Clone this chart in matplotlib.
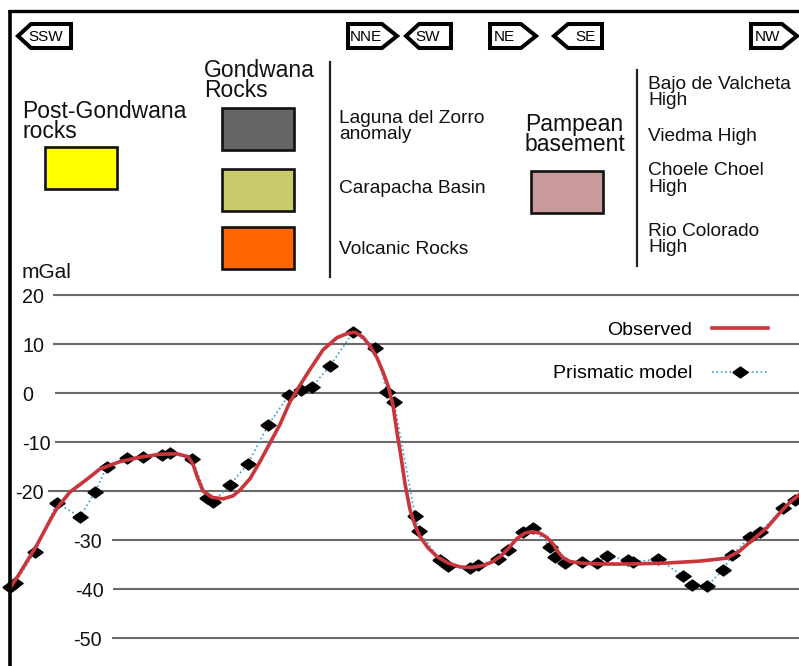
import numpy as np
import matplotlib.pyplot as plt
from matplotlib.patches import Polygon, Rectangle

plt.rcParams['font.family'] = ['Liberation Sans', 'DejaVu Sans']

# profile distance (plot units) and gravity anomaly (mGal)
obs_x = [10, 20, 37, 50, 57, 70, 87, 100, 120, 140, 160, 177, 188, 193, 197, 203,
         212, 223, 233, 240, 250, 260, 270, 280, 290, 300, 310, 323, 337, 348, 355,
         363, 370, 377, 383, 388, 393, 397, 401, 405, 410, 415, 420, 428, 437, 448,
         460, 472, 483, 492, 500, 508, 517, 525, 532, 540, 547, 553, 558, 563, 570,
         580, 600, 630, 667, 700, 727, 740, 750, 760, 767, 780, 790, 799]
obs_y = [-39.8, -36.7, -31.0, -26.0, -23.5, -20.2, -17.6, -15.5, -14.0, -13.1, -12.5,
         -12.4, -13.0, -14.5, -17.0, -20.0, -21.3, -21.6, -21.0, -19.8, -17.5, -14.0,
         -10.2, -6.4, -1.8, 1.6, 4.8, 8.8, 11.3, 12.2, 12.4, 11.4, 9.6, 7.2, 4.3, 1.5,
         -2.5, -8.0, -13.0, -18.5, -23.8, -27.0, -29.3, -31.6, -33.4, -34.7, -35.5,
         -35.6, -35.2, -34.5, -33.4, -31.8, -29.7, -28.6, -28.3, -28.6, -29.5, -30.8,
         -32.4, -33.6, -34.4, -34.7, -34.9, -34.9, -34.7, -34.3, -33.7, -32.2, -30.4,
         -28.7, -27.5, -24.4, -22.3, -20.8]

model_x = [10, 15, 35, 57, 80, 95, 107, 127, 143, 162, 170, 192, 207, 213, 230, 248,
           268, 289, 301, 312, 330, 353, 375, 387, 394, 415, 419, 440, 448, 470, 478,
           498, 508, 523, 533, 550, 555, 565, 582, 597, 607, 628, 633, 658, 683, 692,
           707, 723, 732, 750, 760, 783, 795]
model_y = [-39.5, -38.8, -32.4, -22.4, -25.3, -20.2, -15.0, -13.3, -13.1, -12.7, -12.3,
           -13.4, -21.4, -22.2, -18.8, -14.4, -6.6, -0.4, 0.6, 1.3, 5.5, 12.4, 9.2, 0.2,
           -1.8, -25.0, -28.1, -34.1, -35.3, -35.7, -35.1, -33.9, -32.0, -28.4, -27.6,
           -31.4, -33.4, -34.7, -34.5, -34.7, -33.3, -34.1, -34.5, -33.9, -37.3, -39.2,
           -39.4, -36.1, -33.1, -29.4, -28.4, -23.5, -21.8]

levels = [20, 10, 0, -10, -20, -30, -40, -50]
level_label_x = [22, 22, 22, 22, 15, 73, 75, 73]
grid_start = [53, 53, 55, 55, 48, 112, 113, 112]

directions = ['SSW', 'NNE', 'SW', 'NE', 'SE', 'NW']

W, H = 799, 666
fig = plt.figure(figsize=(W / 100, H / 100), dpi=100)

# chart axes (pixel row = 393 - 4.9 * mGal)
ax = fig.add_axes([0, 0, 1, 386 / H])
ax.set_xlim(0, W)
ax.set_ylim(-55.714, 23.061)
ax.axis('off')

for lev, lx, gx in zip(levels, level_label_x, grid_start):
    ax.hlines(lev, gx, W, color='#6a6a6a', lw=1.5, zorder=1)
    ax.annotate(str(lev), (lx, lev), xytext=(0, -5.8), textcoords='offset points',
                ha='left', va='baseline', fontsize=14.2, color='#111111')

diamond = [(-1, 0), (0, 0.72), (1, 0), (0, -0.72), (-1, 0)]
model_line, = ax.plot(model_x, model_y, color='#3a9ad6', lw=1.2, ls=':',
                      marker=diamond, markersize=11, markerfacecolor='black',
                      markeredgecolor='black', zorder=3, label='Prismatic model')
obs_line, = ax.plot(obs_x, obs_y, color='#c9353a', lw=2.6, zorder=4,
                    solid_joinstyle='round', label='Observed')

ax.legend(handles=[obs_line, model_line], loc='upper right',
          bbox_to_anchor=(768 / W, 1 - 321 / H), bbox_transform=fig.transFigure,
          markerfirst=False, frameon=False, fontsize=14, handlelength=2.9,
          handletextpad=1.0, labelspacing=1.35, borderpad=0, borderaxespad=0)

# overlay in pixel coordinates for the header and frame
ov = fig.add_axes([0, 0, 1, 1], zorder=3)
ov.set_xlim(0, W)
ov.set_ylim(H, 0)
ov.axis('off')
ov.patch.set_alpha(0)

ov.plot([8, W], [11, 11], color='black', lw=2.4, solid_capstyle='butt')
ov.plot([10, 10], [10, H], color='black', lw=2.6, solid_capstyle='butt')

# direction tags
def tag(x0, x1, tip, pointing, label, tx):
    top, bot, mid = 24, 48, 36
    if pointing == 'left':
        pts = [(tip, mid), (x0, top), (x1, top), (x1, bot), (x0, bot)]
    else:
        pts = [(x0, top), (x1, top), (tip, mid), (x1, bot), (x0, bot)]
    ov.add_patch(Polygon(pts, closed=True, facecolor='white', edgecolor='black',
                         lw=2.9, joinstyle='miter'))
    ov.text(tx, 37, label, ha='center', va='center', fontsize=11)

tag(31, 71, 18, 'left', directions[0], 46)
tag(348, 382, 397, 'right', directions[1], 366)
tag(419, 451, 406, 'left', directions[2], 428)
tag(490, 521, 536, 'right', directions[3], 504)
tag(568, 602, 554, 'left', directions[4], 585)
tag(751, 782, 797, 'right', directions[5], 767)

# label blocks: x, baseline of the last line, text, size, line spacing
def label(x, baseline, text, size, spacing=0.9):
    ov.text(x, baseline, text, ha='left', va='baseline', fontsize=size,
            linespacing=spacing, color='#111111')

label(22, 138, 'Post-Gondwana\nrocks', 16.5, 0.86)
label(204, 97, 'Gondwana\nRocks', 16.5, 0.86)
label(525, 151, 'Pampean\nbasement', 16.5, 0.83)
label(22, 278, 'mGal', 15)

label(339, 139, 'Laguna del Zorro\nanomaly', 13.8, 0.9)
label(339, 193, 'Carapacha Basin', 13.8)
label(339, 254, 'Volcanic Rocks', 13.8)
label(648, 105, 'Bajo de Valcheta\nHigh', 13.8, 0.92)
label(648, 141, 'Viedma High', 13.8)
label(648, 192, 'Choele Choel\nHigh', 13.8, 0.98)
label(648, 252, 'Rio Colorado\nHigh', 13.8, 0.92)

swatches = [(45, 147, '#ffff00'), (222, 108, '#666666'), (222, 169, '#c9ca6b'),
            (222, 227, '#ff6600'), (531, 171, '#c99a9a')]
for x, y, c in swatches:
    ov.add_patch(Rectangle((x, y), 72, 42, facecolor=c, edgecolor='#111111', lw=1.9))

ov.plot([330, 330], [62, 277], color='#222222', lw=1.6)
ov.plot([637, 637], [70, 266], color='#222222', lw=1.6)

fig.savefig('out.png', dpi=100)
